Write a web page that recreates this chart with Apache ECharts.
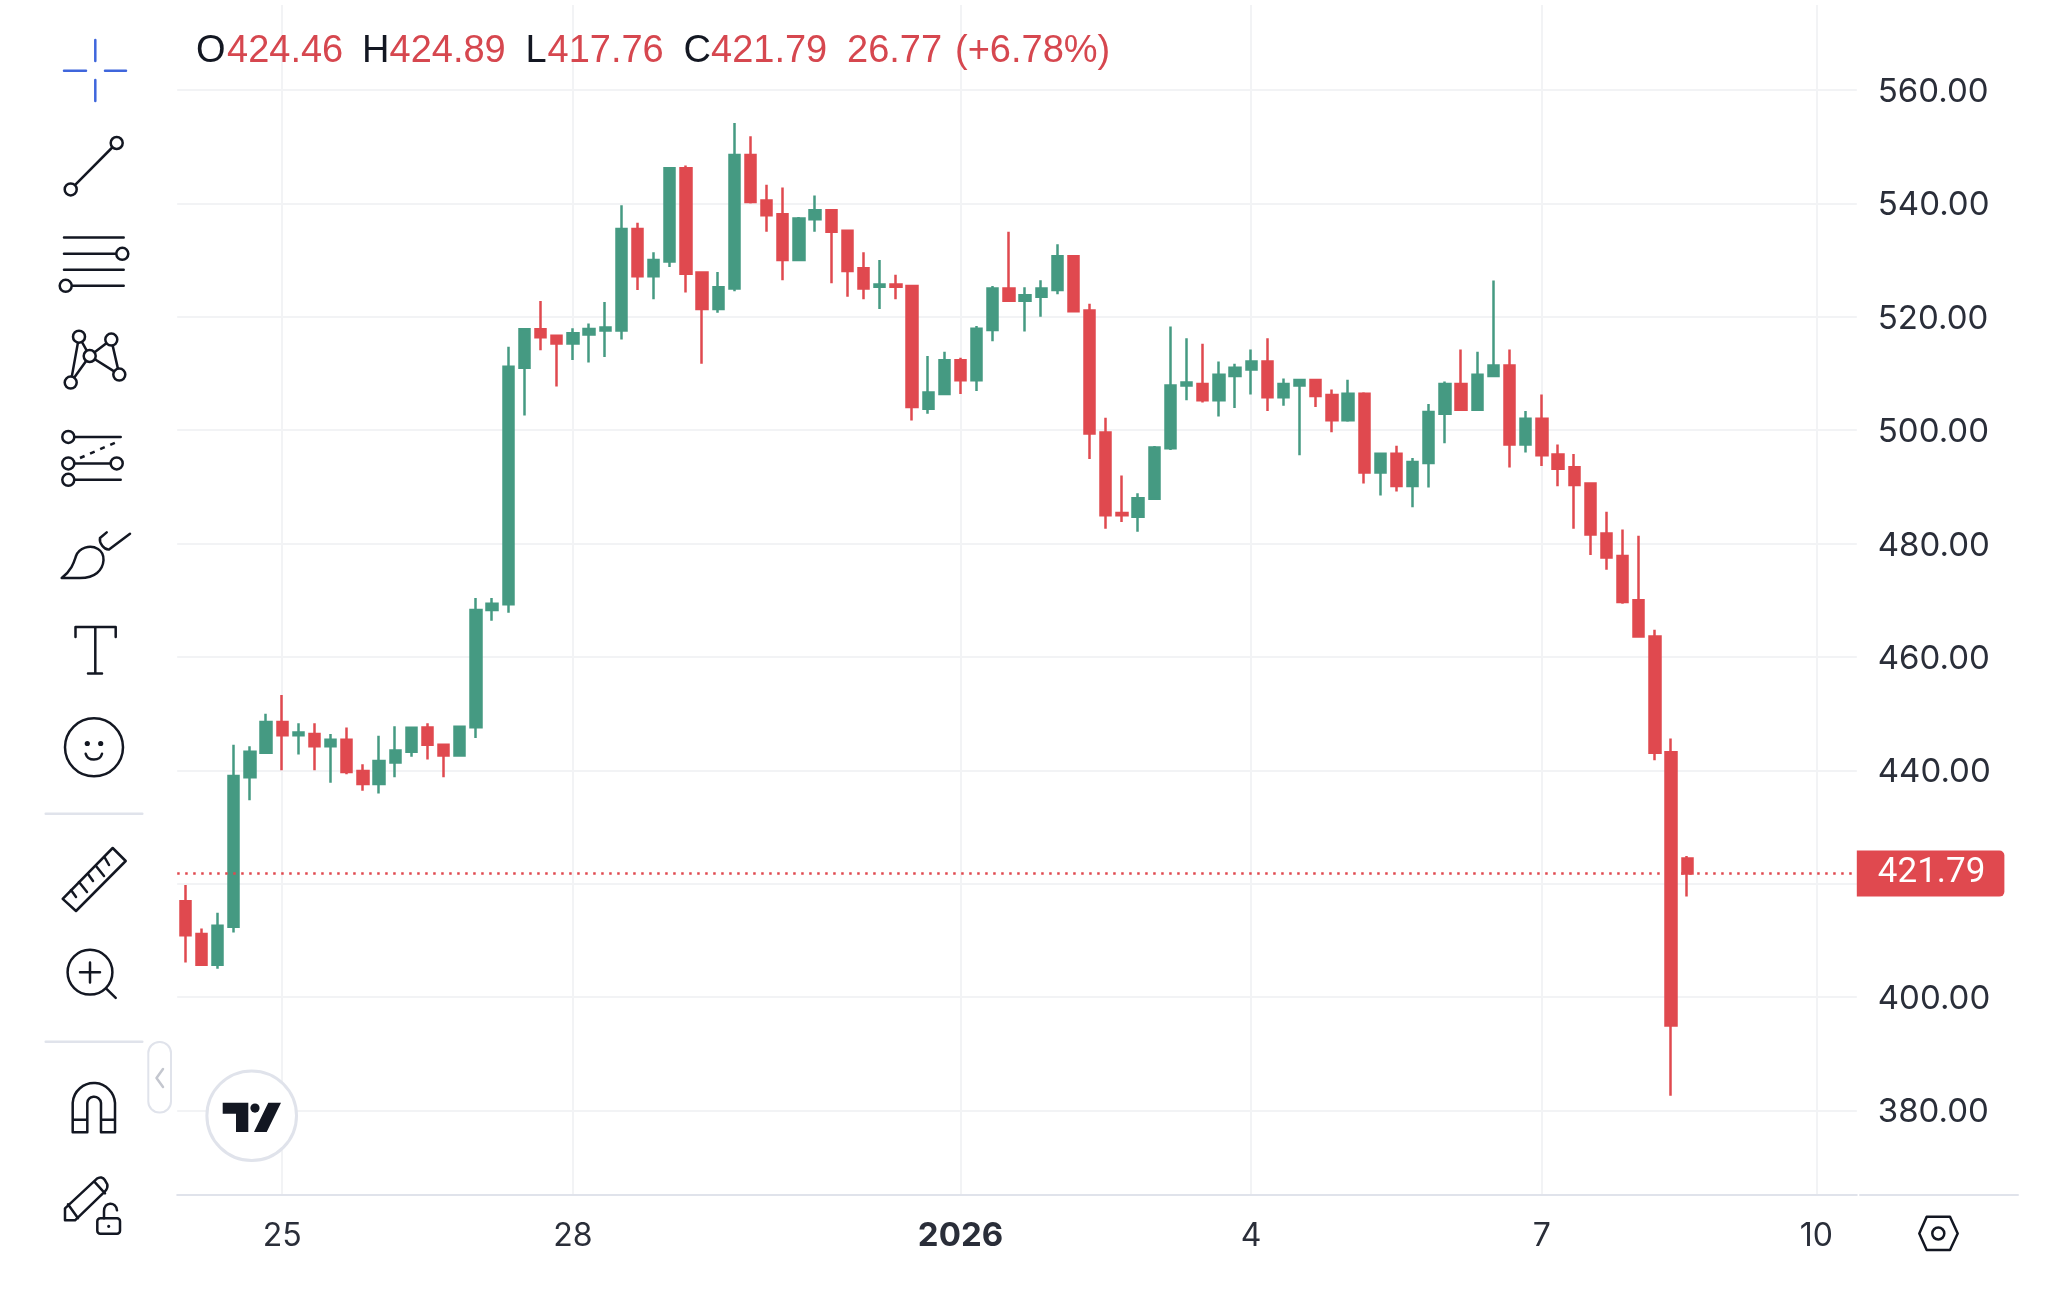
<!DOCTYPE html>
<html>
<head>
<meta charset="utf-8">
<style>
html, body { margin: 0; padding: 0; background: #fff; }
#chart { width: 2050px; height: 1294px; }
</style>
<script src="https://cdn.jsdelivr.net/npm/echarts@6/dist/echarts.min.js"></script>
</head>
<body>
<div id="chart"></div>
<script>
// 4小时K线，从 12-24 00:00 开始
var opens = [416.9, 411.15, 405.7, 412.4, 438.8, 443.1, 448.55, 446.2, 446.4, 444.25,
	445.4, 439.9, 437.6, 441.4, 443.3, 447.55, 444.5, 442.6, 447.6, 468.3,
	469.3, 511, 517.8, 516.65, 515.3, 516.9, 517.6, 517.6, 535.5, 527.15,
	529.75, 546.2, 527.8, 521.4, 525, 548.55, 540.5, 538.1, 530, 537.2,
	538.8, 535.2, 528.55, 525.3, 525.7, 525.45, 503.8, 506.4, 512.36, 508.8,
	517.67, 525, 522.85, 523.55, 524.75, 530.7, 521.1, 499.6, 485.4, 484.75,
	487.9, 496.8, 507.9, 508.15, 505.3, 509.56, 510.7, 512.1, 505.8, 507.9,
	508.85, 506.2, 501.75, 506.45, 492.55, 495.85, 490.15, 494.2, 502.9, 508.15,
	503.6, 509.56, 511.4, 497.5, 502, 495.7, 493.45, 490.6, 481.8, 477.8,
	470, 463.6, 443.2, 424.46];
var closes = [410.9, 405.7, 412.6, 439, 443.3, 448.55, 446.2, 446.7, 444.25, 445.4,
	439.7, 437.6, 441.65, 443.5, 447.5, 444.5, 442.6, 447.7, 468.3, 469.4,
	511.2, 517.8, 516.4, 515.3, 517.1, 517.85, 518.1, 535.5, 527.15, 530,
	546.2, 527.6, 521.4, 525.2, 548.55, 540.25, 537.9, 530, 537.35, 538.8,
	535, 528.1, 525, 525.7, 525.3, 504.1, 506.65, 512.36, 508.8, 517.9,
	525, 522.85, 523.8, 525, 530.7, 521, 499.4, 485, 485, 488,
	496.95, 507.9, 508.4, 505.3, 509.8, 511, 512.1, 505.8, 508.15, 508.85,
	506.05, 501.75, 506.45, 492.55, 495.85, 490.15, 494.4, 503.2, 508.15, 503.6,
	509.8, 511.4, 497.5, 502, 495.6, 493.2, 490.35, 481.6, 477.55, 469.7,
	463.6, 443.1, 395, 421.79];
var lows = [406.1, 405.6, 405, 411.4, 434.75, 443, 440, 442.8, 440, 437.8,
	439.3, 436.4, 435.9, 438.8, 442.4, 441.9, 438.8, 442.5, 445.7, 466.4,
	467.8, 502.6, 514.1, 507.7, 512.4, 511.95, 512.9, 516, 524.75, 523.1,
	528.8, 524.3, 511.7, 520.7, 524.5, 540, 535, 526.45, 529.9, 535,
	525.9, 523.55, 523.1, 521.4, 523.1, 501.7, 502.9, 506.3, 506.4, 506.9,
	515.7, 522.6, 517.4, 520, 524, 520.9, 494.9, 482.6, 483.8, 482.1,
	487.8, 496.5, 505.3, 504.9, 502.4, 503.9, 506.3, 503.4, 504.3, 495.6,
	504.1, 499.65, 501.5, 490.6, 488.5, 489.2, 486.4, 489.9, 497.7, 503.4,
	503.4, 509.5, 493.4, 496.07, 493.7, 490.1, 482.6, 478, 475.4, 469.4,
	463.5, 441.8, 382.6, 417.76];
var highs = [419.8, 412.1, 414.9, 444.5, 444.25, 450, 453.3, 448.3, 448.3, 446.4,
	447.55, 441.1, 446.1, 447.8, 447.6, 448.3, 444.7, 447.8, 470.4, 470.4,
	514.7, 517.9, 522.8, 516.7, 518, 518.8, 522.6, 539.7, 536.6, 531.4,
	546.3, 546.7, 527.9, 527.9, 554.2, 551.85, 543.3, 542.8, 537.6, 541.4,
	538.9, 535.3, 531.4, 530, 527.4, 525.5, 513.07, 513.85, 512.8, 518.4,
	525.45, 535, 525.2, 526.45, 532.8, 530.75, 522.3, 502.2, 492, 488.9,
	497.2, 518.3, 516.2, 515.25, 512.1, 511.7, 514.25, 516.2, 509.1, 508.9,
	508.9, 507.2, 508.9, 506.7, 496.07, 497.25, 495.1, 504.6, 508.6, 514.25,
	513.85, 526.4, 514.25, 503.4, 506.3, 497.5, 495.8, 490.8, 485.6, 482.5,
	481.4, 464.8, 445.6, 424.89];

var priceTicks = [380, 400, 420, 440, 460, 480, 500, 520, 540, 560];
// 420 的文字被现价标签挡住，不画
var priceLabels = [380, 400, 440, 460, 480, 500, 520, 540, 560];
// 时间轴刻度：K线序号 -> 文字
var dayTickIndex = [6, 24, 48, 66, 84, 101];
var dayTickText = ['25', '28', '2026', '4', '7', '10'];
var slotCount = 104;

var headerText = ['O', opens[93].toFixed(2), 'H', highs[93].toFixed(2), 'L', lows[93].toFixed(2), 'C', closes[93].toFixed(2), '26.77', '(+6.78%)'];
var headerLeft = [196, 227, 362, 389.5, 525.5, 547.5, 683.5, 711, 847, 955];

var upColor = '#459a82';
var downColor = '#e0494f';
var inkColor = '#131722';
var labelColor = '#2a2e39';
var gridColor = '#f2f3f5';
var edgeColor = '#e0e3eb';

var categories = [];
var candles = [];
for (var i = 0; i < slotCount; i++) {
	categories.push(String(i));
	if (i < opens.length) {
		candles.push([opens[i], closes[i], lows[i], highs[i]]);
	} else {
		candles.push('-');
	}
}

function isDayTick(index) {
	return dayTickIndex.indexOf(index) >= 0;
}

/* 工具栏图标 */
var iconCount = 0;

// graphic 组件没有 path 类型，注册成自定义形状
function pathEl(d, style) {
	var name = 'toolIcon' + (iconCount++);
	echarts.graphic.registerShape(name, echarts.graphic.extendPath(d, {}));
	return { type: name, shape: {}, style: style };
}

function stroke(d, color, width) {
	return pathEl(d, { fill: 'none', stroke: color || inkColor, lineWidth: width || 2.5, lineCap: 'round', lineJoin: 'round' });
}

function dot(x, y, r) {
	return {
		type: 'circle',
		shape: { cx: x, cy: y, r: r || 6 },
		style: { fill: '#fff', stroke: inkColor, lineWidth: 2.5 }
	};
}

function buildGraphics() {
	var g = [];

	// 十字
	g.push(stroke('M64 70.7H86M105 70.7H126M95.3 40V61M95.3 80V101', '#3f66dc', 2.5));

	// 趋势线
	g.push(stroke('M70.7 189.4L116.7 143'));
	g.push(dot(70.7, 189.4), dot(116.7, 143));

	// 平行线
	g.push(stroke('M64 237.4H123.7M64 253.8H122M64 269.8H123.7M66 285.8H123.7'));
	g.push(dot(122.3, 253.8), dot(65.7, 285.8));

	// 网状
	g.push(stroke('M79 336.7L70.7 382.6L89.7 356L79 336.7M89.7 356L111.3 339.6L119.3 374.6L89.7 356'));
	g.push(dot(79, 336.7), dot(111.3, 339.6), dot(89.7, 356), dot(119.3, 374.6), dot(70.7, 382.6));

	// 斐波那契
	g.push(stroke('M68 436.9H120.7M68 463.4H116M68 479.8H120.7'));
	g.push(pathEl('M80 458L116.7 442', { fill: 'none', stroke: inkColor, lineWidth: 2.5, lineDash: [5, 6] }));
	g.push(dot(68.3, 436.9), dot(68.3, 463.4), dot(116.7, 463.4), dot(68.3, 479.8));

	// 画笔
	g.push(stroke('M61.7 578C72 570 74 562 76 556C79 548 90 544 98 549C106 554 105 566 97 573C91 578 85 578 80 578Z'));
	g.push(stroke('M106.7 532.4L100 538C99 543 104 550 109 549.5L130 533.7'));

	// 文字
	g.push(stroke('M75.5 637V627H115.7V637M95.3 627V673M88 673.4H102'));

	// 表情
	g.push({
		type: 'circle',
		shape: { cx: 94, cy: 747.3, r: 29 },
		style: { fill: 'none', stroke: inkColor, lineWidth: 2.5 }
	});
	g.push(stroke('M85.7 753.8C88 761.5 100 761.5 102 753.8'));
	g.push(
		{ type: 'circle', shape: { cx: 87.3, cy: 743.5, r: 2.6 }, style: { fill: inkColor } },
		{ type: 'circle', shape: { cx: 100.7, cy: 743.5, r: 2.6 }, style: { fill: inkColor } }
	);

	// 分隔线
	g.push(stroke('M45.7 813.7H142.3M45.7 1041.7H142.3', edgeColor, 2.5));

	// 尺子
	g.push(stroke('M112.7 848L125.7 861L76 911L62.7 898.8Z'));
	g.push(stroke('M71 890L76 897M79 882L87 892M88 874L93 881M96 866L104 876M105 858L109 865'));

	// 放大镜
	g.push({
		type: 'circle',
		shape: { cx: 90, cy: 972.2, r: 22.4 },
		style: { fill: 'none', stroke: inkColor, lineWidth: 2.5 }
	});
	g.push(stroke('M80 972.2H100M90 962.4V982.4M106 988.4L115.7 997.8'));

	// 折叠按钮
	g.push({
		type: 'rect',
		shape: { x: 148.3, y: 1042, width: 22.7, height: 70.5, r: 11 },
		style: { fill: '#fff', stroke: edgeColor, lineWidth: 2 }
	});
	g.push(stroke('M163 1069L156.5 1078L163 1087', '#c4c7cf', 2.5));

	// 磁铁
	g.push(stroke('M72.7 1132.2V1102.8A21.2 21.2 0 0 1 115 1102.8V1132.2H101V1102.8A6.9 6.9 0 0 0 87.3 1102.8V1132.2ZM72.7 1119.8H87.3M101 1119.8H115'));

	// 铅笔和锁
	g.push(stroke('M65 1220.3V1208.3L96.7 1178.8C100 1176.3 103 1177.3 105 1180.3L107.3 1184.3C108 1187.3 107 1189.3 105 1191.3L75 1220.3ZM68 1204.3L78 1218.3M95 1182.3L105 1193.3'));
	g.push({
		type: 'rect',
		shape: { x: 97.3, y: 1218.3, width: 22.7, height: 15.4, r: 3 },
		style: { fill: '#fff', stroke: inkColor, lineWidth: 2.5 }
	});
	g.push(stroke('M104 1218.3V1211.3C104 1201.3 116 1201.3 117 1210.3'));
	g.push({ type: 'circle', shape: { cx: 108.7, cy: 1226.3, r: 1.6 }, style: { fill: inkColor } });

	// 水印
	g.push({
		type: 'circle',
		shape: { cx: 251.7, cy: 1115.7, r: 44.8 },
		style: { fill: '#fff', stroke: edgeColor, lineWidth: 3 }
	});
	g.push(pathEl('M222.7 1102.7H248.3V1132.1H236V1113.7H222.7ZM268.3 1102.7H281L266.7 1132.1H254Z', { fill: inkColor }));
	g.push({ type: 'circle', shape: { cx: 255, cy: 1108.1, r: 4.6 }, style: { fill: inkColor } });

	// 右下角
	g.push(stroke('M1860 1195H2018', edgeColor, 2));
	g.push(stroke('M1919.3 1233.5L1926.7 1216.8H1950L1957.7 1233.5L1950 1250H1926.7Z'));
	g.push({
		type: 'circle',
		shape: { cx: 1938.3, cy: 1233.5, r: 6 },
		style: { fill: 'none', stroke: inkColor, lineWidth: 2.5 }
	});

	// OHLC 文字
	for (var i = 0; i < headerText.length; i++) {
		g.push({
			type: 'text',
			x: headerLeft[i],
			y: 51.5,
			silent: true,
			style: {
				text: headerText[i],
				font: '38px "Liberation Sans"',
				fill: (i < 8 && i % 2 === 0) ? inkColor : '#d6474f',
				verticalAlign: 'middle'
			}
		});
	}

	// 图形放在坐标网格上面
	for (var j = 0; j < g.length; j++) {
		g[j].z = 20;
	}

	return g;
}

var myChart = echarts.init(document.getElementById('chart'), null, { renderer: 'canvas' });

var option = {
	animation: false,
	backgroundColor: '#fff',
	grid: { left: 177.2, top: 5, width: 1679.6, height: 1190, containLabel: false },
	xAxis: {
		type: 'category',
		data: categories,
		boundaryGap: true,
		axisLine: { show: true, lineStyle: { color: edgeColor, width: 2 } },
		axisTick: { show: false },
		axisLabel: {
			interval: function(index) {
				return isDayTick(index);
			},
			formatter: function(value, index) {
				var text = dayTickText[dayTickIndex.indexOf(+value)];
				return text === '2026' ? '{year|' + text + '}' : text;
			},
			color: labelColor,
			fontFamily: 'Inter',
			fontSize: 32,
			margin: 25,
			rich: {
				year: { fontFamily: 'Inter', fontSize: 33, fontWeight: 'bold', color: labelColor }
			}
		},
		splitLine: {
			show: true,
			alignWithLabel: true,
			interval: function(index) {
				return isDayTick(index);
			},
			lineStyle: { color: gridColor, width: 2 }
		}
	},
	yAxis: {
		type: 'value',
		position: 'right',
		min: 365.1,
		max: 575,
		axisLine: { show: false },
		axisTick: { show: false, customValues: priceTicks },
		axisLabel: {
			customValues: priceLabels,
			formatter: function(value) {
				return value.toFixed(2);
			},
			color: labelColor,
			fontFamily: 'Inter',
			fontSize: 33,
			margin: 21,
			verticalAlign: 'top',
			lineHeight: 4
		},
		splitLine: { show: true, lineStyle: { color: gridColor, width: 2 } }
	},
	series: [{
		type: 'candlestick',
		data: candles,
		barWidth: 10.8,
		itemStyle: {
			color: upColor,
			color0: downColor,
			borderColor: upColor,
			borderColor0: downColor,
			borderWidth: 2.5
		},
		markLine: {
			silent: true,
			symbol: 'none',
			animation: false,
			data: [{ yAxis: closes[93] }],
			lineStyle: { color: downColor, type: [2.5, 5.5], width: 2.5 },
			label: {
				position: 'end',
				distance: 0,
				formatter: function() {
					return closes[93].toFixed(2);
				},
				color: '#fff',
				backgroundColor: downColor,
				borderRadius: [0, 5, 5, 0],
				fontFamily: 'Roboto',
				fontSize: 35,
				padding: [9, 19, 2, 21]
			}
		}
	}],
	graphic: buildGraphics()
};

myChart.setOption(option);
</script>
</body>
</html>
